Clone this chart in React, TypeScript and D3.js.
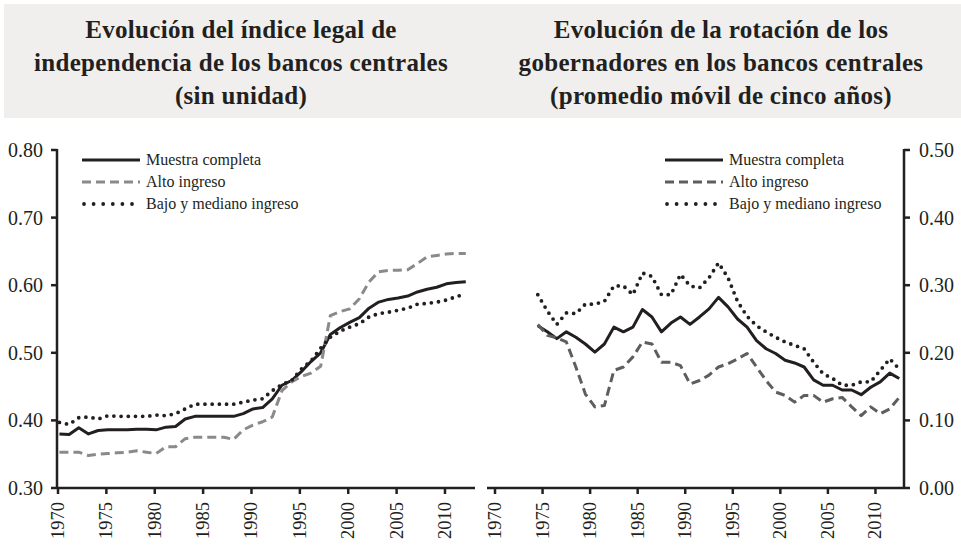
import { useEffect, useRef } from "react";
import * as d3 from "d3";

// Left panel: legal independence index, 1970-2012
const leftYears = d3.range(1970, 2013);
const leftMuestra = [
  0.380, 0.379, 0.389, 0.380, 0.385, 0.386, 0.386, 0.386, 0.387, 0.387,
  0.386, 0.390, 0.391, 0.402, 0.406, 0.406, 0.406, 0.406, 0.406, 0.410,
  0.417, 0.419, 0.432, 0.452, 0.459, 0.472, 0.487, 0.500, 0.527, 0.537,
  0.545, 0.552, 0.566, 0.575, 0.579, 0.581, 0.584, 0.590, 0.594, 0.597,
  0.602, 0.604, 0.605,
];
const leftAlto = [
  0.353, 0.353, 0.353, 0.348, 0.350, 0.351, 0.352, 0.353, 0.355, 0.353,
  0.351, 0.361, 0.361, 0.373, 0.375, 0.375, 0.375, 0.375, 0.372, 0.386,
  0.393, 0.398, 0.405, 0.444, 0.457, 0.465, 0.470, 0.480, 0.555, 0.561,
  0.565, 0.580, 0.605, 0.620, 0.622, 0.622, 0.623, 0.632, 0.642, 0.644,
  0.646, 0.647, 0.647,
];
const leftBajo = [
  0.397, 0.394, 0.404, 0.405, 0.402, 0.407, 0.406, 0.406, 0.406, 0.406,
  0.408, 0.407, 0.410, 0.417, 0.424, 0.424, 0.424, 0.424, 0.424, 0.427,
  0.430, 0.432, 0.444, 0.453, 0.459, 0.476, 0.488, 0.507, 0.523, 0.532,
  0.538, 0.543, 0.553, 0.558, 0.560, 0.563, 0.566, 0.572, 0.573, 0.575,
  0.578, 0.583, 0.587,
];

// Right panel: governor turnover (5-year moving average), 1974-2012
const rightYears = d3.range(1974, 2013);
const rightMuestra = [
  0.240, 0.231, 0.221, 0.231, 0.223, 0.213, 0.201, 0.213, 0.238, 0.231,
  0.238, 0.264, 0.253, 0.231, 0.244, 0.253, 0.242, 0.253, 0.265, 0.282,
  0.268, 0.250, 0.238, 0.218, 0.206, 0.199, 0.189, 0.185, 0.179, 0.160,
  0.152, 0.152, 0.145, 0.145, 0.138, 0.149, 0.157, 0.170, 0.162,
];
const rightAlto = [
  0.242, 0.226, 0.222, 0.216, 0.179, 0.139, 0.120, 0.122, 0.174, 0.179,
  0.194, 0.216, 0.213, 0.186, 0.186, 0.181, 0.154, 0.159, 0.167, 0.179,
  0.184, 0.191, 0.199, 0.179, 0.159, 0.142, 0.137, 0.127, 0.137, 0.137,
  0.127, 0.132, 0.134, 0.120, 0.107, 0.120, 0.110, 0.117, 0.134,
];
const rightBajo = [
  0.286, 0.262, 0.242, 0.259, 0.258, 0.272, 0.272, 0.276, 0.299, 0.299,
  0.286, 0.318, 0.313, 0.286, 0.286, 0.316, 0.299, 0.296, 0.311, 0.333,
  0.311, 0.276, 0.254, 0.240, 0.231, 0.223, 0.216, 0.211, 0.206, 0.186,
  0.169, 0.162, 0.152, 0.152, 0.157, 0.157, 0.174, 0.191, 0.176,
];

const yearTicks = d3.range(1970, 2011, 5);
const leftTicks = [0.3, 0.4, 0.5, 0.6, 0.7, 0.8];
const rightTicks = [0.0, 0.1, 0.2, 0.3, 0.4, 0.5];
const seriesNames = ["Muestra completa", "Alto ingreso", "Bajo y mediano ingreso"];
const leftTitle = [
  "Evolución del índice legal de",
  "independencia de los bancos centrales",
  "(sin unidad)",
];
const rightTitle = [
  "Evolución de la rotación de los",
  "gobernadores en los bancos centrales",
  "(promedio móvil de cinco años)",
];

const W = 961;
const H = 551;
const FONT = "'Liberation Serif', 'Times New Roman', serif";
const INK = "#231f20";

export default function App() {
  const ref = useRef<SVGSVGElement>(null);

  useEffect(() => {
    if (!ref.current) return;
    const svg = d3.select(ref.current);
    svg.selectAll("*").remove();

    // header band
    svg.append("rect")
      .attr("x", 4).attr("y", 4).attr("width", W - 4).attr("height", 114)
      .attr("fill", "#f0efed");

    const drawTitle = (lines: string[], cx: number) => {
      svg.append("g").selectAll("text").data(lines).join("text")
        .attr("x", cx)
        .attr("y", (_d, i) => 38 + i * 33)
        .attr("text-anchor", "middle")
        .attr("font-family", FONT)
        .attr("font-weight", "bold")
        .attr("font-size", 25)
        .attr("letter-spacing", 0.3)
        .attr("fill", INK)
        .text(d => d);
    };
    drawTitle(leftTitle, 241);
    drawTitle(rightTitle, 721);

    const yTop = 150;
    const yBot = 488;

    const styles = [
      { color: INK, dash: null as string | null, width: 3, cap: "butt" },
      { color: "#8a8a8a", dash: "9,5", width: 3, cap: "butt" },
      { color: INK, dash: "0,7.2", width: 3.8, cap: "round" },
    ];

    const drawPanel = (opts: {
      years: number[];
      series: number[][];
      xRange: [number, number];
      axisStart: number;
      axisEnd: number;
      offset: number;
      yDomain: [number, number];
      ticks: number[];
      yAxisX: number;
      right: boolean;
      altoColor: string;
      legendX: number;
    }) => {
      const x = d3.scaleLinear().domain([1970, 2013]).range(opts.xRange);
      const y = d3.scaleLinear().domain(opts.yDomain).range([yBot, yTop]);
      const g = svg.append("g");

      // lines
      opts.series.forEach((vals, i) => {
        const st = styles[i];
        const line = d3.line<number>()
          .x((_d, j) => x(opts.years[j] + opts.offset))
          .y(d => y(d));
        g.append("path")
          .datum(vals)
          .attr("d", line)
          .attr("fill", "none")
          .attr("stroke", i === 1 ? opts.altoColor : st.color)
          .attr("stroke-width", st.width)
          .attr("stroke-linecap", st.cap)
          .attr("stroke-linejoin", "round")
          .attr("stroke-dasharray", st.dash);
      });

      // x axis
      g.append("line")
        .attr("x1", opts.axisStart).attr("x2", opts.axisEnd)
        .attr("y1", yBot).attr("y2", yBot)
        .attr("stroke", INK).attr("stroke-width", 2.5);
      const xt = g.append("g").selectAll("g").data(yearTicks).join("g")
        .attr("transform", d => `translate(${x(d)},${yBot})`);
      xt.append("line").attr("y1", 0).attr("y2", 6)
        .attr("stroke", INK).attr("stroke-width", 2.5);
      xt.append("text")
        .attr("transform", "translate(6,14) rotate(-90)")
        .attr("text-anchor", "end")
        .attr("font-family", FONT)
        .attr("font-size", 18.5)
        .attr("fill", INK)
        .text(d => String(d));

      // y axis
      g.append("line")
        .attr("x1", opts.yAxisX).attr("x2", opts.yAxisX)
        .attr("y1", yTop - 1).attr("y2", yBot + 1)
        .attr("stroke", INK).attr("stroke-width", 2.5);
      const yt = g.append("g").selectAll("g").data(opts.ticks).join("g")
        .attr("transform", d => `translate(${opts.yAxisX},${y(d)})`);
      yt.append("line")
        .attr("x1", 0).attr("x2", opts.right ? 6 : -6)
        .attr("stroke", INK).attr("stroke-width", 2.5);
      yt.append("text")
        .attr("x", opts.right ? 15 : -14)
        .attr("dy", "0.35em")
        .attr("text-anchor", opts.right ? "start" : "end")
        .attr("font-family", FONT)
        .attr("font-size", 20)
        .attr("fill", INK)
        .text(d => d3.format(".2f")(d));

      // legend
      const lg = g.append("g").selectAll("g").data(seriesNames).join("g")
        .attr("transform", (_d, i) => `translate(${opts.legendX},${160 + i * 22})`);
      lg.append("line")
        .attr("x1", (_d, i) => (i === 2 ? 2 : 0)).attr("x2", 58)
        .attr("stroke", (_d, i) => (i === 1 ? opts.altoColor : styles[i].color))
        .attr("stroke-width", (_d, i) => styles[i].width)
        .attr("stroke-linecap", (_d, i) => styles[i].cap)
        .attr("stroke-dasharray", (_d, i) => (i === 2 ? "0,9.6" : styles[i].dash));
      lg.append("text")
        .attr("x", 64)
        .attr("dy", "0.32em")
        .attr("font-family", FONT)
        .attr("font-size", 16)
        .attr("fill", INK)
        .text(d => d);
    };

    drawPanel({
      years: leftYears,
      series: [leftMuestra, leftAlto, leftBajo],
      xRange: [58, 474],
      axisStart: 57,
      axisEnd: 475,
      offset: 0.15,
      yDomain: [0.3, 0.8],
      ticks: leftTicks,
      yAxisX: 57,
      right: false,
      altoColor: "#8a8a8a",
      legendX: 82,
    });
    drawPanel({
      years: rightYears,
      series: [rightMuestra, rightAlto, rightBajo],
      xRange: [495, 904],
      axisStart: 487,
      axisEnd: 904,
      offset: 0.5,
      yDomain: [0, 0.5],
      ticks: rightTicks,
      yAxisX: 904,
      right: true,
      altoColor: "#5e5e5e",
      legendX: 665,
    });
  }, []);

  return (
    <svg
      ref={ref}
      width={W}
      height={H}
      style={{ position: "absolute", left: 0, top: 0, background: "#fff" }}
    />
  );
}
